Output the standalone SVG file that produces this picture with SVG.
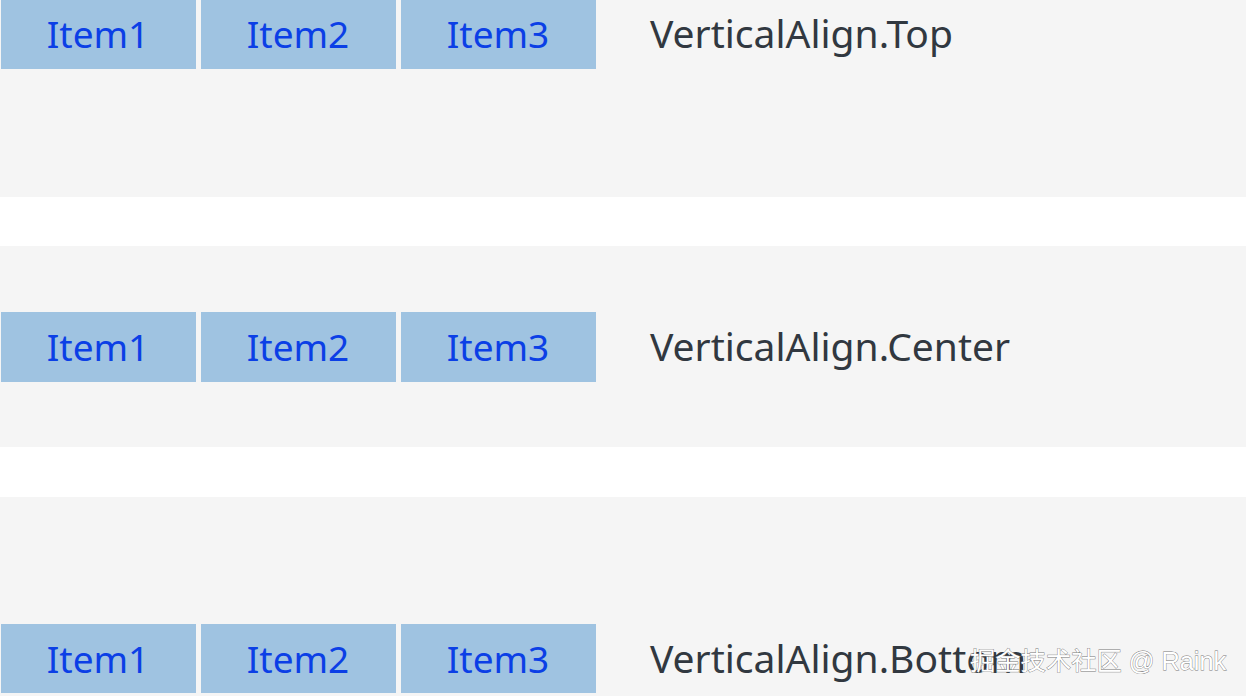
<svg xmlns="http://www.w3.org/2000/svg" width="1246" height="696" viewBox="0 0 1246 696">
<style>
.band{fill:#f5f5f5}
.box{fill:#9fc3e1}
.it{font-family:"Noto Sans","Open Sans",sans-serif;font-size:37px;fill:#0b3fe6;text-anchor:middle}
.lbl{font-family:"Noto Sans","Open Sans",sans-serif;font-size:39px;fill:#313840}
.wm{font-family:"Liberation Sans","Noto Sans CJK SC",sans-serif;font-size:25.3px;fill:#ffffff;stroke:#777;stroke-width:0.8;paint-order:stroke}
</style>
<rect width="1246" height="696" fill="#ffffff"/>
<rect class="band" x="0" y="0" width="1246" height="197"/>
<rect class="band" x="0" y="246" width="1246" height="201"/>
<rect class="band" x="0" y="497" width="1246" height="199"/>
<g id="row1">
<g id="r1i1"><rect class="box" x="1" y="0" width="195" height="69"/><text class="it" x="98" y="48">Item1</text></g>
<g id="r1i2"><rect class="box" x="201" y="0" width="195" height="69"/><text class="it" x="298" y="48">Item2</text></g>
<g id="r1i3"><rect class="box" x="401" y="0" width="195" height="69"/><text class="it" x="498" y="48">Item3</text></g>
<text class="lbl" x="650" y="48">VerticalAlign.Top</text>
</g>
<g id="row2">
<g id="r2i1"><rect class="box" x="1" y="312" width="195" height="70"/><text class="it" x="98" y="361">Item1</text></g>
<g id="r2i2"><rect class="box" x="201" y="312" width="195" height="70"/><text class="it" x="298" y="361">Item2</text></g>
<g id="r2i3"><rect class="box" x="401" y="312" width="195" height="70"/><text class="it" x="498" y="361">Item3</text></g>
<text class="lbl" x="650" y="361">VerticalAlign.Center</text>
</g>
<g id="row3">
<g id="r3i1"><rect class="box" x="1" y="624" width="195" height="69"/><text class="it" x="98" y="673">Item1</text></g>
<g id="r3i2"><rect class="box" x="201" y="624" width="195" height="69"/><text class="it" x="298" y="673">Item2</text></g>
<g id="r3i3"><rect class="box" x="401" y="624" width="195" height="69"/><text class="it" x="498" y="673">Item3</text></g>
<text class="lbl" x="650" y="673">VerticalAlign.Bottom</text>
</g>
<text class="wm" x="970" y="670">掘金技术社区 @ Raink</text>
</svg>
